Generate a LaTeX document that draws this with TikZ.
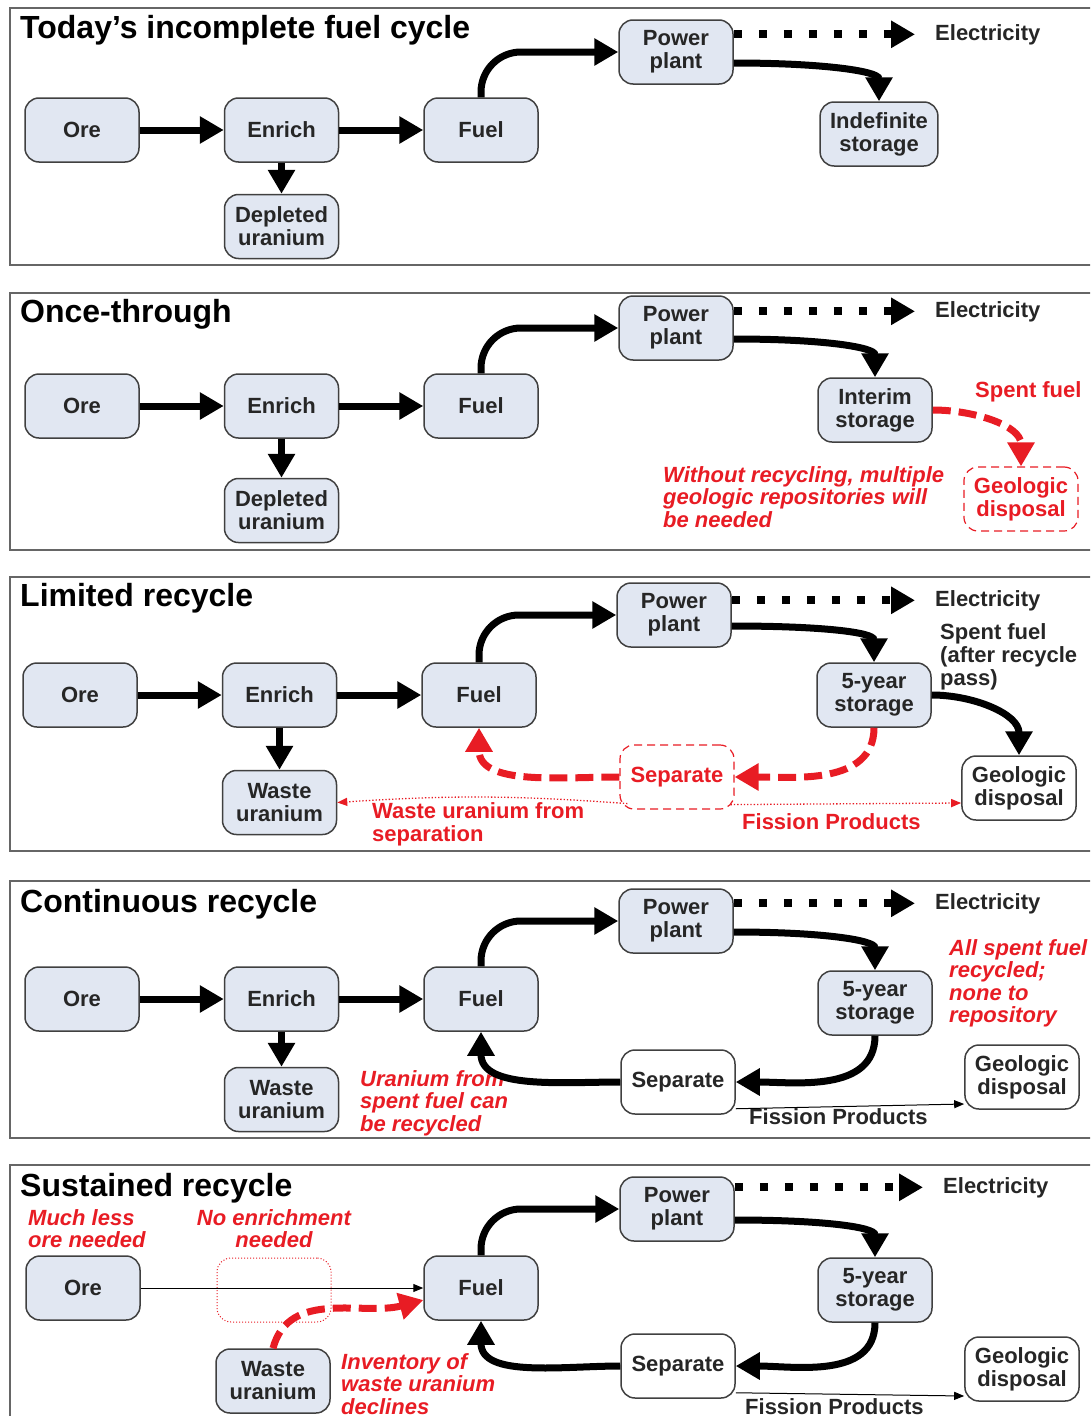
\documentclass[tikz,border=0pt]{standalone}
\usepackage{fontspec}
\setmainfont{Liberation Sans}
\usetikzlibrary{%
  positioning,
  arrows.meta,
}
\definecolor{boxfill}{RGB}{225,231,242}
\definecolor{notered}{RGB}{232,28,36}
\newcommand\boxfont{\fontsize{22}{23}\selectfont\bfseries}
\newcommand\titlefont{\fontsize{32}{36}\selectfont\bfseries}
\newcommand\notefont{\fontsize{22}{22.5}\selectfont\bfseries\itshape}

\begin{document}
\begin{tikzpicture}[%
           x=1pt, y=-1pt,
           node distance=31pt and 84pt,
           stage/.style={
             % The shape:
             rectangle,
             rounded corners=14pt,
             % The size:
             minimum width=114pt,
             minimum height=64pt,
             inner xsep=10pt,
             % The border and filling:
             draw=black!75,
             line width=1.5pt,
             fill=boxfill,
             % The text:
             align=center,
             font=\boxfont,
             text=black!85,
           },
           openstage/.style={stage, fill=white},
           redstage/.style={stage, fill=none, draw=notered, line width=1.2pt,
             dash pattern=on 8pt off 5pt, text=notered},
           skipped/.style={stage, fill=none, draw=notered, line width=1pt, dotted},
           flow/.style={
             line width=7pt,
             -{Triangle[length=24pt,width=26pt]},
           },
           recycle/.style={flow, color=notered, dash pattern=on 18pt off 8pt},
           elecflow/.style={
             line width=8pt,
             dash pattern=on 8pt off 17pt,
             -{Triangle[length=24pt,width=26pt]},
           },
           thinflow/.style={line width=1pt, -{Triangle[length=10pt,width=8pt]}},
           thinred/.style={thinflow, line width=1.3pt, color=notered, dotted},
           panel/.style={draw=black!60, line width=2pt},
           paneltitle/.style={anchor=base west, font=\titlefont, inner sep=0pt},
           electext/.style={anchor=base west, font=\boxfont, inner sep=0pt, text=black!85},
           redlabel/.style={electext, text=notered},
           note/.style={anchor=north west, font=\notefont, text=notered,
             align=left, inner sep=0pt},
         ]
         \useasboundingbox (0,0) rectangle (1090,1416);
         \clip (0,0) rectangle (1090,1416);

         % Today's incomplete fuel cycle
         \draw[panel] (10,8) rectangle (1100,265);
         \node[paneltitle] (title1) at (20,38) {Today’s incomplete fuel cycle};
         \node[stage] (ore1) at (82,130) {Ore};
         \node[stage, right=of ore1] (enrich1) {Enrich};
         \node[stage, right=of enrich1] (fuel1) {Fuel};
         \node[stage, below=of enrich1] (depleted1) {Depleted\\uranium};
         \node[stage] (power1) at (676,52) {Power\\plant};
         \node[stage] (store1) at (879,134) {Indefinite\\storage};
         \node[electext] (elec1) at (935,40) {Electricity};

         \draw[flow] (ore1) -- (enrich1);
         \draw[flow] (enrich1) -- (fuel1);
         \draw[flow] (enrich1) -- (depleted1);
         \draw[flow, rounded corners=40pt] (fuel1.north) |- (power1.west);
         \draw[flow] ([yshift=-11pt]power1.east) .. controls +(90,0) and +(0,-30) .. (store1.north);
         \draw[elecflow] (power1.east |- elec1.west) -- ([xshift=-20pt]elec1.west);

         % Once-through
         \draw[panel] (10,293) rectangle (1100,550);
         \node[paneltitle] (title2) at (20,322) {Once-through};
         \node[stage] (ore2) at (82,406) {Ore};
         \node[stage, right=of ore2] (enrich2) {Enrich};
         \node[stage, right=of enrich2] (fuel2) {Fuel};
         \node[stage, below=39pt of enrich2] (depleted2) {Depleted\\uranium};
         \node[stage] (power2) at (676,328) {Power\\plant};
         \node[stage] (interim2) at (875,410) {Interim\\storage};
         \node[redstage] (geo2) at (1021,499) {Geologic\\disposal};
         \node[electext] (elec2) at (935,317) {Electricity};
         \node[redlabel] (spent2) at (975,397) {Spent fuel};
         \node[note] (warn2) at (663,466) {Without recycling, multiple\\geologic repositories will\\be needed};

         \draw[flow] (ore2) -- (enrich2);
         \draw[flow] (enrich2) -- (fuel2);
         \draw[flow] (enrich2) -- (depleted2);
         \draw[flow, rounded corners=40pt] (fuel2.north) |- (power2.west);
         \draw[flow] ([yshift=-11pt]power2.east) .. controls +(90,0) and +(0,-30) .. (interim2.north);
         \draw[elecflow] (power2.east |- elec2.west) -- ([xshift=-20pt]elec2.west);
         \draw[recycle] (interim2.east) to[out=0, in=90] (geo2.north);

         % Limited recycle
         \draw[panel] (10,577) rectangle (1100,851);
         \node[paneltitle] (title3) at (20,606) {Limited recycle};
         \node[stage] (ore3) at (80,695) {Ore};
         \node[stage, right=of ore3] (enrich3) {Enrich};
         \node[stage, right=of enrich3] (fuel3) {Fuel};
         \node[stage, below=42pt of enrich3] (waste3) {Waste\\uranium};
         \node[stage] (power3) at (674,615) {Power\\plant};
         \node[stage] (store3) at (874,695) {5-year\\storage};
         \node[redstage] (sep3) at (677,777) {Separate};
         \node[openstage] (geo3) at (1019,788) {Geologic\\disposal};
         \node[electext] (elec3) at (935,606) {Electricity};
         \node[note, font=\boxfont, text=black!85] (spent3) at (940,623) {Spent fuel\\(after recycle\\pass)};
         \node[note, font=\boxfont] (wastenote3) at (372,802) {Waste uranium from\\separation};
         \node[redlabel] (fission3) at (742,829) {Fission Products};

         \draw[flow] (ore3) -- (enrich3);
         \draw[flow] (enrich3) -- (fuel3);
         \draw[flow] (enrich3) -- (waste3);
         \draw[flow, rounded corners=40pt] (fuel3.north) |- (power3.west);
         \draw[flow] ([yshift=-11pt]power3.east) .. controls +(90,0) and +(0,-30) .. (store3.north);
         \draw[elecflow] (power3.east |- elec3.west) -- ([xshift=-20pt]elec3.west);
         \draw[flow] (store3.east) to[out=0, in=90] (geo3.north);
         \draw[recycle] (store3.south) to[out=-90, in=0] (sep3.east);
         \draw[recycle] (sep3.west) to[out=180, in=-90] (fuel3.south);
         \draw[thinred] ([shift={(8pt,6pt)}]sep3.south west) to[bend right=4] (waste3.east);
         \draw[thinred] ([shift={(-4pt,5pt)}]sep3.south east) -- ([yshift=-15pt]geo3.west);

         % Continuous recycle
         \draw[panel] (10,881) rectangle (1100,1138);
         \node[paneltitle] (title4) at (20,912) {Continuous recycle};
         \node[stage] (ore4) at (82,999) {Ore};
         \node[stage, right=of ore4] (enrich4) {Enrich};
         \node[stage, right=of enrich4] (fuel4) {Fuel};
         \node[stage, below=35pt of enrich4] (waste4) {Waste\\uranium};
         \node[stage] (power4) at (676,921) {Power\\plant};
         \node[stage] (store4) at (875,1003) {5-year\\storage};
         \node[openstage] (sep4) at (678,1082) {Separate};
         \node[openstage] (geo4) at (1022,1077) {Geologic\\disposal};
         \node[electext] (elec4) at (935,909) {Electricity};
         \node[note] (allspent4) at (949,939) {All spent fuel\\recycled;\\none to\\repository};
         \node[note] (reuse4) at (360,1070) {Uranium from\\spent fuel can\\be recycled};
         \node[electext] (fission4) at (749,1124) {Fission Products};

         \draw[flow] (ore4) -- (enrich4);
         \draw[flow] (enrich4) -- (fuel4);
         \draw[flow] (enrich4) -- (waste4);
         \draw[flow, rounded corners=40pt] (fuel4.north) |- (power4.west);
         \draw[flow] ([yshift=-11pt]power4.east) .. controls +(90,0) and +(0,-30) .. (store4.north);
         \draw[elecflow] (power4.east |- elec4.west) -- ([xshift=-20pt]elec4.west);
         \draw[flow] (store4.south) to[out=-90, in=0] (sep4.east);
         \draw[flow] (sep4.west) to[out=180, in=-90] (fuel4.south);
         \draw[thinflow] ([yshift=6pt]sep4.south east) -- ([yshift=-27pt]geo4.west);

         % Sustained recycle
         \draw[panel] (10,1165) rectangle (1100,1440);
         \node[paneltitle] (title5) at (20,1196) {Sustained recycle};
         \node[stage] (ore5) at (83,1288) {Ore};
         \node[skipped] (noenrich5) at (274,1290) {};
         \node[stage] (fuel5) at (481,1288) {Fuel};
         \node[stage] (waste5) at (273,1381) {Waste\\uranium};
         \node[stage] (power5) at (677,1209) {Power\\plant};
         \node[stage] (store5) at (875,1290) {5-year\\storage};
         \node[openstage] (sep5) at (678,1366) {Separate};
         \node[openstage] (geo5) at (1022,1369) {Geologic\\disposal};
         \node[electext] (elec5) at (943,1193) {Electricity};
         \node[note] (lessore5) at (28,1209) {Much less\\ore needed};
         \node[note, anchor=north, align=center] (noenrichnote5) at (274,1209) {No enrichment\\needed};
         \node[note] (inventory5) at (341,1353) {Inventory of\\waste uranium\\declines};
         \node[electext] (fission5) at (745,1414) {Fission Products};

         \draw[thinflow] (ore5) -- (fuel5);
         \draw[recycle] (waste5.north) to[out=75, in=195] ([yshift=-12pt]fuel5.west);
         \draw[flow, rounded corners=40pt] (fuel5.north) |- (power5.west);
         \draw[flow] ([yshift=-11pt]power5.east) .. controls +(90,0) and +(0,-30) .. (store5.north);
         \draw[elecflow] (power5.east |- elec5.west) -- ([xshift=-20pt]elec5.west);
         \draw[flow] (store5.south) to[out=-90, in=0] (sep5.east);
         \draw[flow] (sep5.west) to[out=180, in=-90] (fuel5.south);
         \draw[thinflow] ([yshift=6pt]sep5.south east) -- ([yshift=-27pt]geo5.west);
       \end{tikzpicture}
\end{document}
